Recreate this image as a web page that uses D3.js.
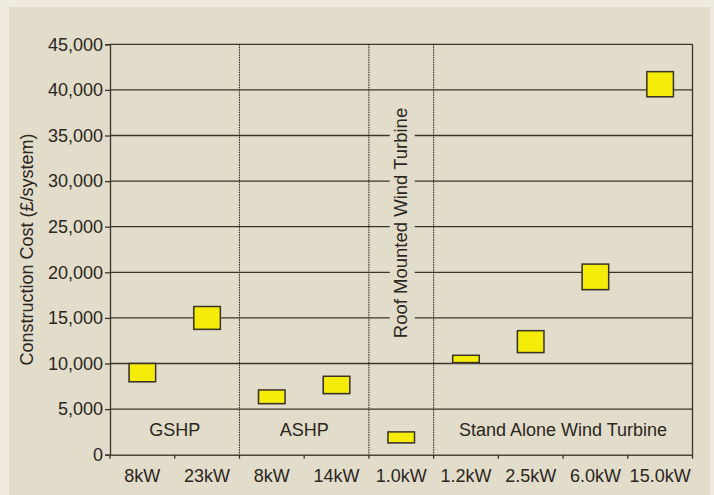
<!DOCTYPE html>
<html>
<head>
<meta charset="utf-8">
<script src="https://cdn.jsdelivr.net/npm/d3@7/dist/d3.min.js"></script>
<style>
  html, body { margin: 0; padding: 0; background: #efebe1; }
  svg { display: block; font-family: "Liberation Sans", Arial, Helvetica, sans-serif; }
</style>
</head>
<body>
<svg id="chart" width="714" height="495"></svg>
<script>
// System sizes along the x axis (ids are unique, labels are what is drawn)
const categories = ["gshp8", "gshp23", "ashp8", "ashp14", "roof1", "sa1.2", "sa2.5", "sa6", "sa15"];
const categoryLabels = ["8kW", "23kW", "8kW", "14kW", "1.0kW", "1.2kW", "2.5kW", "6.0kW", "15.0kW"];

// Construction cost range per system (£/system)
const costLow  = [8000, 13750, 5600, 6700, 1300, 10100, 11200, 18100, 39250];
const costHigh = [10000, 16250, 7100, 8600, 2500, 10900, 13600, 20900, 42000];

// Technology groups and how many sizes each spans
const groupNames  = ["GSHP", "ASHP", "Roof Mounted Wind Turbine", "Stand Alone Wind Turbine"];
const groupCounts = [2, 2, 1, 4];

const yTicks = [0, 5000, 10000, 15000, 20000, 25000, 30000, 35000, 40000, 45000];

const W = 714, H = 495;
const plot = { left: 110, right: 692.5, top: 44.3, bottom: 454.7 };
const ink = "#3a342c";
const panelFill = "#e2dccb";

const svg = d3.select("#chart");

svg.append("rect").attr("width", W).attr("height", H).attr("fill", "#efebe1");
svg.append("rect").attr("x", 9).attr("y", 7).attr("width", 701).attr("height", H - 7).attr("fill", panelFill);

const x = d3.scaleBand().domain(categories).range([plot.left, plot.right]).padding(0);
const y = d3.scaleLinear().domain([0, 45000]).range([plot.bottom, plot.top]);

// Horizontal gridlines
svg.append("g").selectAll("line")
  .data(yTicks.filter(v => v > 0))
  .join("line")
  .attr("x1", plot.left).attr("x2", plot.right)
  .attr("y1", d => y(d)).attr("y2", d => y(d))
  .attr("stroke", ink).attr("stroke-width", 1.3);

// Group boundaries
const groupStarts = [];
let acc = 0;
groupCounts.forEach(c => { groupStarts.push(acc); acc += c; });
const groupSpan = groupCounts.map((c, i) => {
  const first = categories[groupStarts[i]];
  const last = categories[groupStarts[i] + c - 1];
  return [x(first), x(last) + x.bandwidth()];
});

svg.append("g").selectAll("line")
  .data(groupSpan.slice(1).map(s => s[0]))
  .join("line")
  .attr("x1", d => d).attr("x2", d => d)
  .attr("y1", plot.top).attr("y2", plot.bottom)
  .attr("stroke", "#2e2922").attr("stroke-width", 1.1)
  .attr("stroke-dasharray", "1.5,1");

// Right border of the plot
svg.append("line")
  .attr("x1", plot.right).attr("x2", plot.right)
  .attr("y1", plot.top).attr("y2", plot.bottom)
  .attr("stroke", ink).attr("stroke-width", 1.3);

// Group labels
groupNames.forEach((name, i) => {
  const [x0, x1] = groupSpan[i];
  const cx = (x0 + x1) / 2;
  if (groupCounts[i] === 1) {
    const cy = 223;
    svg.append("rect")
      .attr("x", cx - 11.5).attr("y", cy - 124)
      .attr("width", 25).attr("height", 248)
      .attr("fill", panelFill);
    svg.append("text")
      .attr("transform", `translate(${cx + 5.5},${cy}) rotate(-90)`)
      .attr("text-anchor", "middle")
      .attr("font-size", 18.5)
      .attr("fill", "#2b2620")
      .text(name);
  } else {
    svg.append("text")
      .attr("x", cx).attr("y", 436)
      .attr("text-anchor", "middle")
      .attr("font-size", 18)
      .attr("fill", "#2b2620")
      .text(name);
  }
});

// Y axis
const yAxis = d3.axisLeft(y)
  .tickValues(yTicks)
  .tickSize(5)
  .tickPadding(2)
  .tickFormat(d3.format(","));
const gy = svg.append("g").attr("transform", `translate(${plot.left},0)`).call(yAxis);
gy.select(".domain").attr("stroke", ink).attr("stroke-width", 1.3);
gy.selectAll(".tick line").attr("stroke", ink).attr("stroke-width", 1.3);
gy.selectAll(".tick text").attr("font-size", 18).attr("fill", "#2b2620")
  .attr("font-family", "Liberation Sans, Arial, sans-serif");

// X axis: labels centred in each band, ticks on band edges
const xAxis = d3.axisBottom(x)
  .tickSize(0)
  .tickPadding(14.5)
  .tickFormat((d, i) => categoryLabels[i]);
const gx = svg.append("g").attr("transform", `translate(0,${plot.bottom})`).call(xAxis);
gx.select(".domain").attr("stroke", "#4a443b").attr("stroke-width", 1.6);
gx.selectAll(".tick text").attr("font-size", 18).attr("fill", "#2b2620")
  .attr("font-family", "Liberation Sans, Arial, sans-serif");

const edges = categories.map(c => x(c)).concat([plot.right]);
svg.append("g").selectAll("line")
  .data(edges)
  .join("line")
  .attr("x1", d => d).attr("x2", d => d)
  .attr("y1", plot.bottom).attr("y2", plot.bottom + 4)
  .attr("stroke", ink).attr("stroke-width", 1.3);

// Y axis title
svg.append("text")
  .attr("transform", `translate(33,249.5) rotate(-90)`)
  .attr("text-anchor", "middle")
  .attr("font-size", 18)
  .attr("fill", "#2b2620")
  .text("Construction Cost (£/system)");

// Cost range boxes
const boxW = x.bandwidth() * 0.41;
const rows = categories.map((c, i) => ({ c, lo: costLow[i], hi: costHigh[i] }));

const boxes = svg.append("g");
boxes.selectAll("rect.shadow")
  .data(rows)
  .join("rect")
  .attr("class", "shadow")
  .attr("x", d => x(d.c) + x.bandwidth() / 2 - boxW / 2 - 1)
  .attr("y", d => y(d.hi) + 1)
  .attr("width", boxW)
  .attr("height", d => y(d.lo) - y(d.hi))
  .attr("fill", "#9a9488").attr("opacity", 0.5);

boxes.selectAll("rect.box")
  .data(rows)
  .join("rect")
  .attr("class", "box")
  .attr("x", d => x(d.c) + x.bandwidth() / 2 - boxW / 2)
  .attr("y", d => y(d.hi))
  .attr("width", boxW)
  .attr("height", d => y(d.lo) - y(d.hi))
  .attr("fill", "#f5ec0a")
  .attr("stroke", "#3a3328")
  .attr("stroke-width", 1.5);
</script>
</body>
</html>
